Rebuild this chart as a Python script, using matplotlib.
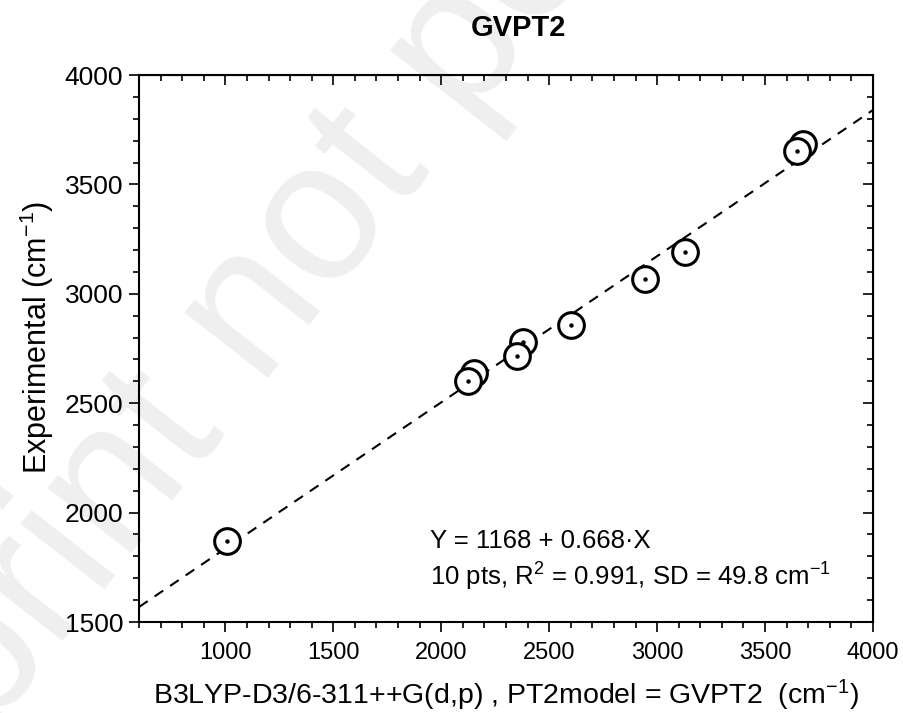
# -*- coding: utf-8 -*-
"""
Experimental vs calculated (GVPT2) wavenumbers with linear fit
"""

import numpy as np
import matplotlib.pyplot as plt
from matplotlib.ticker import MultipleLocator

plt.rcParams['font.family'] = ['Liberation Sans', 'DejaVu Sans']
plt.rcParams['mathtext.fontset'] = 'custom'
plt.rcParams['mathtext.rm'] = 'Liberation Sans'
plt.rcParams['mathtext.it'] = 'Liberation Sans:italic'

# calculated (x) and experimental (y) wavenumbers, cm-1
# order matters: the hidden circle of an overlapping pair comes first
x_calc = [1007, 2153, 2125, 2379, 2352, 2603, 2946, 3131, 3677, 3649]
y_exp = [1872, 2638, 2601, 2781, 2716, 2857, 3068, 3191, 3685, 3654]

# fit line parameters as printed on the chart
fit_intercept = 1168
fit_slope = 0.668

title = "GVPT2"
x_label = "B3LYP-D3/6-311++G(d,p) , PT2model = GVPT2  (cm$^{-1}$)"
y_label = "Experimental (cm$^{-1}$)"
fit_text = ["Y = 1168 + 0.668\u00b7X",
            "10 pts, R$^{2}$ = 0.991, SD = 49.8 cm$^{-1}$"]
watermark = "Preprint not peer reviewed"


def scatter_fit(xs, ys, a, b):
    """ scatter of open circles with a dot in the middle plus dashed fit """
    fig = plt.figure(figsize=(9.04, 7.13), dpi=100)
    ax = fig.add_axes([0.1538, 0.1276, 0.8119, 0.7672])
    ax.patch.set_alpha(0)

    # faint watermark behind everything
    fig.text(-0.227, -0.380, watermark, rotation=52, rotation_mode='anchor',
             ha='left', va='baseline', fontsize=144,
             color='#efefef', zorder=-5)

    # fit line over the whole x range
    xl = np.array([600, 4000])
    ax.plot(xl, a + b * xl, color='black', lw=1.5, ls=(0, (5, 4)), zorder=2)

    # points one by one so the front circle hides the dot of the back one
    for i in range(len(xs)):
        ax.plot(xs[i], ys[i], 'o', ms=18.5, mfc='white', mec='black',
                mew=2.2, zorder=3 + 2 * i)
        ax.plot(xs[i], ys[i], 'o', ms=2.2, color='black', zorder=4 + 2 * i)

    ax.set_xlim(600, 4000)
    ax.set_ylim(1500, 4000)
    ax.xaxis.set_major_locator(MultipleLocator(500))
    ax.xaxis.set_minor_locator(MultipleLocator(100))
    ax.yaxis.set_major_locator(MultipleLocator(500))
    ax.yaxis.set_minor_locator(MultipleLocator(100))

    for s in ax.spines.values():
        s.set_linewidth(1.5)

    # bottom / left ticks out
    ax.tick_params(which='major', direction='out', length=7.5, width=1.2,
                   top=False, right=False)
    ax.tick_params(which='minor', direction='out', length=4.5, width=1.2,
                   top=False, right=False)
    ax.tick_params(axis='x', which='major', labelsize=17, pad=7)
    ax.tick_params(axis='y', which='major', labelsize=19, pad=4)

    # top / right ticks in, no labels
    top = ax.secondary_xaxis('top')
    top.xaxis.set_major_locator(MultipleLocator(500))
    top.xaxis.set_minor_locator(MultipleLocator(100))
    top.tick_params(which='major', direction='in', length=7.5, width=1.2,
                    labeltop=False)
    top.tick_params(which='minor', direction='in', length=4.5, width=1.2)
    right = ax.secondary_yaxis('right')
    right.yaxis.set_major_locator(MultipleLocator(500))
    right.yaxis.set_minor_locator(MultipleLocator(100))
    right.tick_params(which='major', direction='in', length=7.5, width=1.2,
                      labelright=False)
    right.tick_params(which='minor', direction='in', length=4.5, width=1.2)

    # labelling
    fig.text(0.573, 0.961, title, ha='center', va='center', fontsize=21,
             fontweight='bold')
    ax.set_xlabel(x_label, fontsize=20.5, labelpad=10)
    ax.set_ylabel(y_label, fontsize=22, labelpad=6, y=0.52)
    ax.text(0.396, 0.148, fit_text[0], transform=ax.transAxes, fontsize=18.5,
            va='center', zorder=30)
    ax.text(0.396, 0.082, fit_text[1], transform=ax.transAxes, fontsize=18.5,
            va='center', zorder=30)

    fig.savefig("out.png", dpi=100)


scatter_fit(x_calc, y_exp, fit_intercept, fit_slope)
